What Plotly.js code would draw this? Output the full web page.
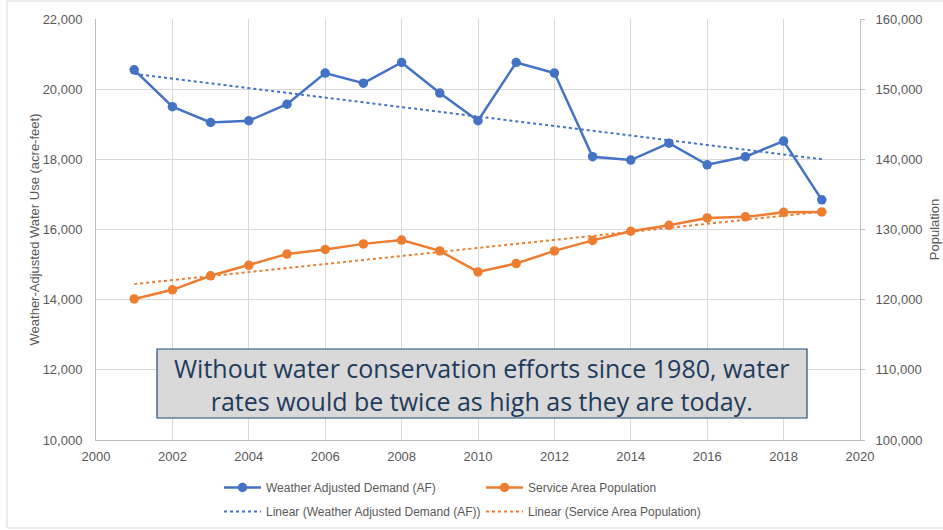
<!DOCTYPE html>
<html>
<head>
<meta charset="utf-8">
<script src="https://cdn.plot.ly/plotly-3.0.1.min.js"></script>
<style>html,body{margin:0;padding:0;background:#fff;}#chart{width:943px;height:530px;}</style>
</head>
<body>
<div id="chart"></div>
<script>
var years = [2001,2002,2003,2004,2005,2006,2007,2008,2009,2010,2011,2012,2013,2014,2015,2016,2017,2018,2019];
var demand = [20550,19500,19050,19100,19570,20460,20170,20760,19890,19100,20760,20460,18075,17980,18460,17845,18075,18520,16845];
var population = [120100,121400,123400,124900,126500,127150,127950,128500,126950,123950,125150,126950,128450,129750,130600,131650,131800,132450,132500];
var leftTicks = [10000,12000,14000,16000,18000,20000,22000];
var rightTicks = [100000,110000,120000,130000,140000,150000,160000];
var xTicks = [2000,2002,2004,2006,2008,2010,2012,2014,2016,2018,2020];

function linearFit(xs, ys) {
  var n = xs.length, sx = 0, sy = 0, sxx = 0, sxy = 0;
  for (var i = 0; i < n; i++) { sx += xs[i]; sy += ys[i]; sxx += xs[i]*xs[i]; sxy += xs[i]*ys[i]; }
  var b = (n*sxy - sx*sy) / (n*sxx - sx*sx);
  var a = (sy - b*sx) / n;
  return xs.map(function(x){ return a + b*x; });
}

var blue = '#4472C4', orange = '#ED7D31';
var gridC = '#D9D9D9', txtC = '#595959';
var fontF = 'Liberation Sans, Arial, sans-serif';

var traces = [
  {x: years, y: demand, name: 'Weather Adjusted Demand (AF)', type: 'scatter', mode: 'lines+markers',
   line: {color: blue, width: 2.5}, marker: {color: blue, size: 9.5}, legend: 'legend', legendgroup: 'a'},
  {x: years, y: linearFit(years, demand), name: 'Linear (Weather Adjusted Demand (AF))', type: 'scatter', mode: 'lines',
   line: {color: blue, width: 2, dash: 'dot'}, legend: 'legend', legendgroup: 'b'},
  {x: years, y: population, name: 'Service Area Population', type: 'scatter', mode: 'lines+markers', yaxis: 'y2',
   line: {color: orange, width: 2.5}, marker: {color: orange, size: 9.5}, legend: 'legend2', legendgroup: 'c'},
  {x: years, y: linearFit(years, population), name: 'Linear (Service Area Population)', type: 'scatter', mode: 'lines', yaxis: 'y2',
   line: {color: orange, width: 2, dash: 'dot'}, legend: 'legend2', legendgroup: 'd'}
];

var L = 96, R = 860, T = 19, B = 440;
function px2x(p){ return (p - L) / (R - L); }
function px2y(p){ return (B - p) / (B - T); }

var layout = {
  width: 943, height: 530,
  margin: {l: L, r: 943 - R, t: T, b: 530 - B, autoexpand: false},
  paper_bgcolor: '#fff', plot_bgcolor: '#fff',
  font: {family: fontF, size: 12, color: txtC},
  showlegend: true,
  xaxis: {range: [2000, 2020], tickvals: xTicks, ticktext: xTicks.map(String), showgrid: true, gridcolor: gridC, gridwidth: 1,
          zeroline: false, showline: true, linecolor: '#BFBFBF', linewidth: 1, ticks: '', ticklabelstandoff: 4,
          tickfont: {family: fontF, size: 13, color: txtC}},
  yaxis: {range: [10000, 22000], tickvals: leftTicks, ticktext: leftTicks.map(function(v){return v.toLocaleString('en-US');}),
          showgrid: true, gridcolor: gridC, zeroline: false, showline: true, linecolor: '#BFBFBF', linewidth: 1, ticks: '',
          ticklabelstandoff: 10, tickfont: {family: fontF, size: 13, color: txtC},
          title: {text: 'Weather-Adjusted Water Use (acre-feet)', font: {family: fontF, size: 13, color: txtC}, standoff: 0}},
  yaxis2: {range: [100000, 160000], tickvals: rightTicks, ticktext: rightTicks.map(function(v){return v.toLocaleString('en-US');}),
          overlaying: 'y', side: 'right', showgrid: false, zeroline: false, showline: true, linecolor: '#BFBFBF', linewidth: 1,
          ticks: 'outside', ticklen: 4, tickcolor: '#BFBFBF', ticklabelstandoff: 8, tickfont: {family: fontF, size: 13, color: txtC},
          title: {text: 'Population', font: {family: fontF, size: 13, color: txtC}, standoff: 8}},
  legend: {orientation: 'v', x: px2x(219), y: px2y(473), xanchor: 'left', yanchor: 'top', bgcolor: 'rgba(0,0,0,0)',
           font: {family: fontF, size: 12, color: txtC}, tracegroupgap: 5, itemwidth: 37},
  legend2: {orientation: 'v', x: px2x(481), y: px2y(473), xanchor: 'left', yanchor: 'top', bgcolor: 'rgba(0,0,0,0)',
           font: {family: fontF, size: 12, color: txtC}, tracegroupgap: 5, itemwidth: 37},
  shapes: [
    {type: 'rect', xref: 'paper', yref: 'paper', x0: px2x(157), x1: px2x(807), y0: px2y(418), y1: px2y(349),
     fillcolor: '#D9D9D9', line: {color: '#1F4E79', width: 1.2}, layer: 'above'},
    {type: 'rect', xref: 'paper', yref: 'paper', x0: px2x(7), x1: px2x(950), y0: px2y(528), y1: px2y(1),
     fillcolor: 'rgba(0,0,0,0)', line: {color: '#D9D9D9', width: 1}, layer: 'below'}
  ],
  annotations: [
    {xref: 'paper', yref: 'paper', x: px2x(481), y: px2y(384), xanchor: 'center', yanchor: 'middle', showarrow: false,
     text: 'Without water conservation efforts since 1980, water<br>rates would be twice as high as they are today.',
     align: 'center', font: {family: 'Open Sans, Noto Sans, sans-serif', size: 25, color: '#1F3B5C'}}
  ]
};

Plotly.newPlot('chart', traces, layout, {displayModeBar: false, staticPlot: true});
</script>
</body>
</html>
